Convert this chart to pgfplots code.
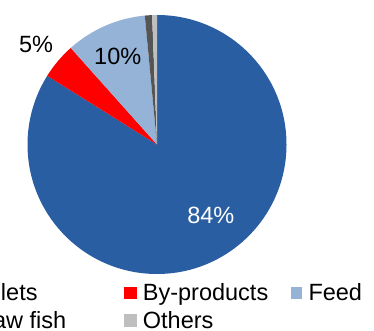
\documentclass[border=0pt]{standalone}
\usepackage{pgfplots}
\usepackage{pgfplotstable}
\pgfplotsset{compat=1.18}
\usepackage{fontspec}
\setmainfont{Liberation Sans}
\definecolor{cFil}{RGB}{42,94,163}
\definecolor{cBy}{RGB}{255,0,0}
\definecolor{cFeed}{RGB}{149,179,215}
\definecolor{cRaw}{RGB}{85,85,85}
\definecolor{cOth}{RGB}{191,191,191}
\pgfplotstableread{
label value color
Fillets 83.9 cFil
By-products 4.5 cBy
Feed 10.1 cFeed
Rawfish 0.9 cRaw
Others 0.6 cOth
}\piedata
\newcommand\lf{\fontsize{23.5}{27}\selectfont}
\begin{document}
\begin{tikzpicture}
\clip (0,0) rectangle (374pt,331pt);
\begin{axis}[
  width=374pt, height=331pt, scale only axis,
  xmin=0, xmax=374, ymin=0, ymax=331,
  hide axis, clip=false,
]
\def\cum{0}
\pgfplotsforeachungrouped \i in {0,...,4} {%
  \pgfplotstablegetelem{\i}{value}\of\piedata \let\v\pgfplotsretval
  \pgfplotstablegetelem{\i}{color}\of\piedata \let\c\pgfplotsretval
  \pgfmathsetmacro\sa{90-3.6*\cum}%
  \pgfmathsetmacro\ea{90-3.6*(\cum+\v)}%
  \edef\slice{\noexpand\fill[\c] (axis cs:157,186.5) -- ++(\sa:129.5pt) arc[start angle=\sa, end angle=\ea, radius=129.5pt] -- cycle;}%
  \slice
  \pgfmathsetmacro\cum{\cum+\v}%
}
\node[anchor=base, text=white, font=\lf] at (axis cs:210.8,107.7) {84\%};
\node[anchor=base, font=\lf] at (axis cs:36,278.3) {5\%};
\node[anchor=base, font=\lf] at (axis cs:117.7,266.7) {10\%};
% legend
\fill[cFil] (axis cs:-41,32) rectangle (axis cs:-29,43.7);
\node[anchor=base west, inner sep=0pt, font=\lf] at (axis cs:-24,30.3) {Fillets};
\fill[cBy] (axis cs:124.3,32) rectangle (axis cs:136.7,43.7);
\node[anchor=base west, inner sep=0pt, font=\lf] at (axis cs:142.7,30.3) {By-products};
\fill[cFeed] (axis cs:290.7,32) rectangle (axis cs:302.3,43.7);
\node[anchor=base west, inner sep=0pt, font=\lf] at (axis cs:308.3,30.3) {Feed};
\fill[cRaw] (axis cs:-41,4.3) rectangle (axis cs:-29,16.7);
\node[anchor=base west, inner sep=0pt, font=\lf] at (axis cs:-24,2.7) {Raw fish};
\fill[cOth] (axis cs:124.3,4.3) rectangle (axis cs:136.7,16.7);
\node[anchor=base west, inner sep=0pt, font=\lf] at (axis cs:142.7,2.7) {Others};
\end{axis}
\end{tikzpicture}
\end{document}
